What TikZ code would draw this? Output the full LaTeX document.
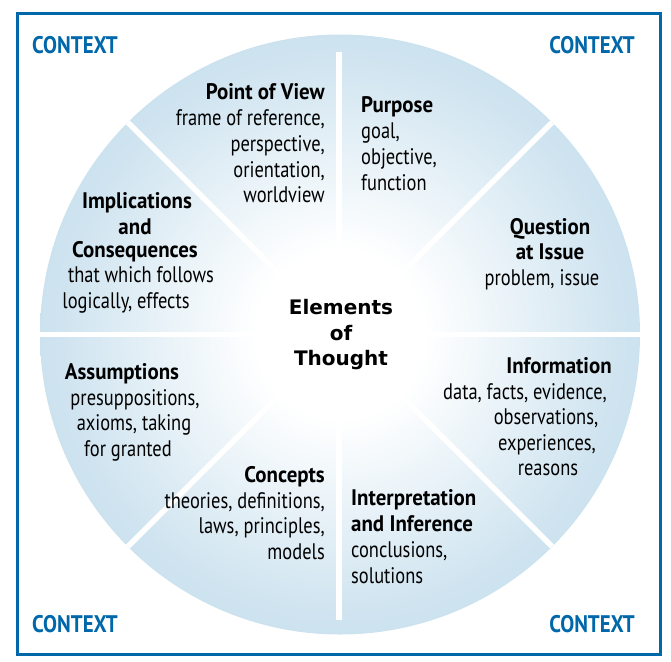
\documentclass[tikz,border=0pt]{standalone}
\usepackage{fontspec}
\setmainfont{PT Sans}[FakeStretch=0.82]
\newfontfamily\hdfont{PT Sans}[FakeStretch=0.93]
\newfontfamily\ctxfont{PT Sans}[FakeStretch=0.87]
\newfontfamily\hubfont{DejaVu Sans}
\definecolor{ctxblue}{RGB}{0,104,170}
\definecolor{rimblue}{RGB}{179,212,231}
\colorlet{midblue}{rimblue!62!white}
% white core fading out to the pale blue rim
\pgfdeclareradialshading{thoughtglow}{\pgfpoint{0bp}{0bp}}{%
  color(0bp)=(white); color(7bp)=(white); color(23bp)=(midblue);
  color(39bp)=(rimblue); color(50bp)=(rimblue)}
\begin{document}
\begin{tikzpicture}[x=1pt,y=-1pt,
  txt/.style={inner sep=0pt, font=\fontsize{22.5}{27}\selectfont},
  hd/.style={inner sep=0pt, font=\hdfont\bfseries\fontsize{22.5}{27}\selectfont},
  ctx/.style={inner sep=0pt, text=ctxblue, font=\ctxfont\bfseries\fontsize{24}{28}\selectfont},
  hub/.style={inner sep=0pt, font=\hubfont\bfseries\fontsize{20}{25.5}\selectfont},
  divider/.style={white, line width=5.5pt}]
\useasboundingbox (0,0) rectangle (671,661);

% frame
\draw[ctxblue, line width=3pt] (17.8,13.2) rectangle (660.5,654.5);

% wheel
\coordinate (c) at (340,334.5);
\node[circle, minimum size=600pt, inner sep=0pt, outer sep=0pt, shading=thoughtglow] (wheel) at (c) {};

% sector dividers
\coordinate (vtop) at (339,52);
\coordinate (vbot) at (339,620);
\begin{scope}
  \clip (c) circle[radius=300];
  \draw[divider] (wheel.west) -- (wheel.east);
  \draw[divider] (wheel.45) -- (wheel.225);
  \draw[divider] (wheel.135) -- (wheel.315);
  \draw[divider] (vtop) -- (vbot);
\end{scope}

% corner labels
\node[ctx, anchor=base west] (ctxtl) at (32,53) {CONTEXT};
\node[ctx, anchor=base east] (ctxtr) at (635,53) {CONTEXT};
\node[ctx, anchor=base west] (ctxbl) at (32,632) {CONTEXT};
\node[ctx, anchor=base east] (ctxbr) at (635,632) {CONTEXT};

% hub
\node[hub, anchor=base] (hub1) at (341,314) {Elements};
\node[hub, anchor=base] (hub2) at (341,340) {of};
\node[hub, anchor=base] (hub3) at (341,365) {Thought};

\begin{scope}[shift={(0,4)}]
% Point of View
\node[hd, anchor=mid east] (pov0) at (325,93) {Point of View};
\node[txt, anchor=mid east] (pov1) at (325,119) {frame of reference,};
\node[txt, anchor=mid east] (pov2) at (325,145) {perspective,};
\node[txt, anchor=mid east] (pov3) at (325,171) {orientation,};
\node[txt, anchor=mid east] (pov4) at (325,196) {worldview};

% Purpose
\node[hd, anchor=mid west] (pur0) at (361,106) {Purpose};
\node[txt, anchor=mid west] (pur1) at (361,132) {goal,};
\node[txt, anchor=mid west] (pur2) at (361,158) {objective,};
\node[txt, anchor=mid west] (pur3) at (361,184) {function};

% Question at Issue
\node[hd, anchor=mid] (que0) at (550,228) {Question};
\node[hd, anchor=mid] (que1) at (550,253) {at Issue};
\node[txt, anchor=mid] (que2) at (542,279) {problem, issue};

% Information
\node[hd, anchor=mid] (inf0) at (559,367) {Information};
\node[txt, anchor=mid] (inf1) at (525,393) {data, facts, evidence,};
\node[txt, anchor=mid] (inf2) at (546,418) {observations,};
\node[txt, anchor=mid] (inf3) at (547,444) {experiences,};
\node[txt, anchor=mid] (inf4) at (548,469) {reasons};

% Interpretation and Inference
\node[hd, anchor=mid west] (int0) at (351,499) {Interpretation};
\node[hd, anchor=mid west] (int1) at (351,525) {and Inference};
\node[txt, anchor=mid west] (int2) at (351,551) {conclusions,};
\node[txt, anchor=mid west] (int3) at (351,577) {solutions};

% Concepts
\node[hd, anchor=mid east] (con0) at (325,476) {Concepts};
\node[txt, anchor=mid east] (con1) at (325,502) {theories, definitions,};
\node[txt, anchor=mid east] (con2) at (325,527) {laws, principles,};
\node[txt, anchor=mid east] (con3) at (325,553) {models};

% Assumptions
\node[hd, anchor=mid] (ass0) at (122,373) {Assumptions};
\node[txt, anchor=mid] (ass1) at (135,399) {presuppositions,};
\node[txt, anchor=mid] (ass2) at (134,424) {axioms, taking};
\node[txt, anchor=mid] (ass3) at (128,450) {for granted};

% Implications and Consequences
\node[hd, anchor=mid] (imp0) at (137,202) {Implications};
\node[hd, anchor=mid] (imp1) at (135,228) {and};
\node[hd, anchor=mid] (imp2) at (135,251) {Consequences};
\node[txt, anchor=mid] (imp3) at (141,276) {that which follows};
\node[txt, anchor=mid] (imp4) at (126,302) {logically, effects};
\end{scope}
\end{tikzpicture}
\end{document}
